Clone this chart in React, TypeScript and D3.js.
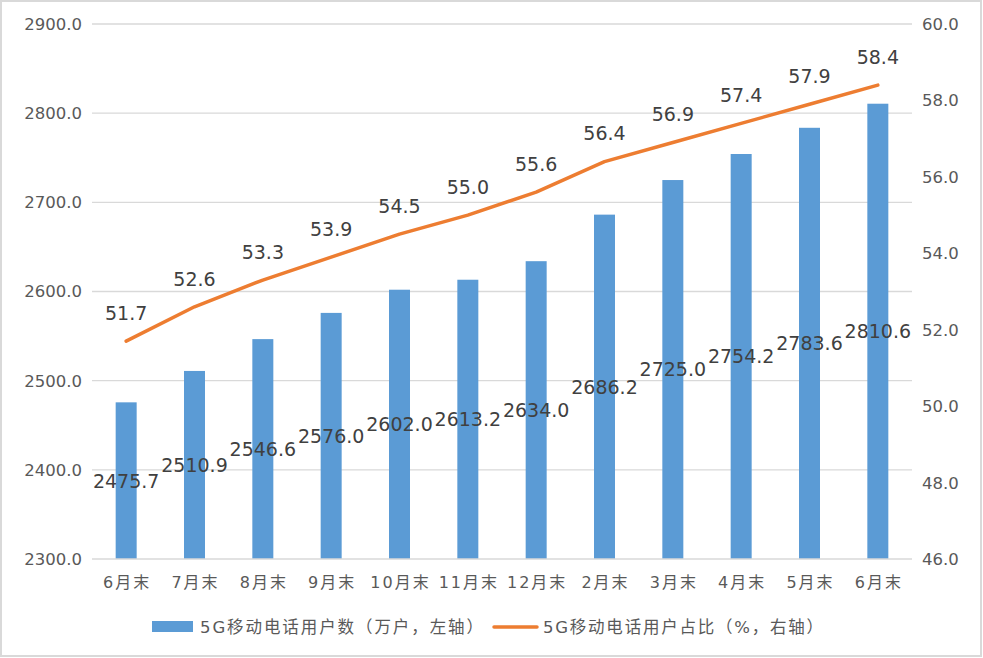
import React from "react";
import * as d3 from "d3";

const categories = ["6月末", "7月末", "8月末", "9月末", "10月末", "11月末", "12月末", "2月末", "3月末", "4月末", "5月末", "6月末"];
const users = [2475.7, 2510.9, 2546.6, 2576.0, 2602.0, 2613.2, 2634.0, 2686.2, 2725.0, 2754.2, 2783.6, 2810.6];
const share = [51.7, 52.6, 53.3, 53.9, 54.5, 55.0, 55.6, 56.4, 56.9, 57.4, 57.9, 58.4];
const leftTicks = [2300, 2400, 2500, 2600, 2700, 2800, 2900];
const rightTicks = [46, 48, 50, 52, 54, 56, 58, 60];
const seriesNames = ["5G移动电话用户数（万户，左轴）", "5G移动电话用户占比（%，右轴）"];

const W = 983;
const H = 658;
const plot = { left: 92, right: 912, top: 24, bottom: 559 };
const font = "DejaVu Sans, 'Noto Sans CJK SC', sans-serif";

const App = () => {
  const x = d3
    .scaleBand<number>()
    .domain(d3.range(categories.length))
    .range([plot.left, plot.right]);
  const yL = d3.scaleLinear().domain([2300, 2900]).range([plot.bottom, plot.top]);
  const yR = d3.scaleLinear().domain([46, 60]).range([plot.bottom, plot.top]);
  const barW = 21;
  const cx = (i: number) => (x(i) as number) + x.bandwidth() / 2;

  const line = d3
    .line<number>()
    .x((_, i) => cx(i))
    .y((d) => yR(d));

  return (
    <svg
      width={W}
      height={H}
      style={{ position: "absolute", left: 0, top: 0 }}
      fontFamily={font}
    >
      <rect x={1} y={1} width={W - 3} height={H - 3} fill="#fff" stroke="#d9d9d9" strokeWidth={2} />

      {leftTicks.slice(1).map((t) => (
        <line key={t} x1={plot.left} x2={plot.right} y1={yL(t)} y2={yL(t)} stroke="#d9d9d9" strokeWidth={1.3} />
      ))}

      {users.map((v, i) => (
        <rect
          key={i}
          x={cx(i) - barW / 2}
          y={yL(v)}
          width={barW}
          height={plot.bottom - yL(v)}
          fill="#5b9bd5"
        />
      ))}

      <line x1={plot.left} x2={plot.right} y1={plot.bottom} y2={plot.bottom} stroke="#d9d9d9" strokeWidth={1.5} />

      {leftTicks.map((t) => (
        <text key={t} x={82} y={yL(t)} dy="0.36em" textAnchor="end" fontSize={16.5} fill="#595959">
          {t.toFixed(1)}
        </text>
      ))}
      {rightTicks.map((t) => (
        <text key={t} x={922} y={yR(t)} dy="0.36em" textAnchor="start" fontSize={16.5} fill="#595959">
          {t.toFixed(1)}
        </text>
      ))}
      {categories.map((c, i) => (
        <text
          key={i}
          x={cx(i) + 1}
          y={582}
          dy="0.36em"
          textAnchor="middle"
          fontSize={16}
          letterSpacing={2}
          fill="#595959"
        >
          {c}
        </text>
      ))}

      <path d={line(share) || ""} fill="none" stroke="#ed7d31" strokeWidth={3.5} strokeLinejoin="round" strokeLinecap="round" />

      {users.map((v, i) => (
        <text
          key={i}
          x={cx(i)}
          y={(yL(v) + plot.bottom) / 2}
          dy="0.36em"
          textAnchor="middle"
          fontSize={19}
          fill="#404040"
        >
          {v.toFixed(1)}
        </text>
      ))}
      {share.map((v, i) => (
        <text key={i} x={cx(i)} y={yR(v) - 28} dy="0.36em" textAnchor="middle" fontSize={19} fill="#404040">
          {v.toFixed(1)}
        </text>
      ))}

      <rect x={152} y={621} width={41} height={11} fill="#5b9bd5" />
      <text x={200} y={627} dy="0.36em" fontSize={16.5} fill="#595959" textLength={283} lengthAdjust="spacing">
        {seriesNames[0]}
      </text>
      <line x1={494} x2={537} y1={627} y2={627} stroke="#ed7d31" strokeWidth={3.5} strokeLinecap="round" />
      <text x={543} y={627} dy="0.36em" fontSize={16.5} fill="#595959" textLength={280} lengthAdjust="spacing">
        {seriesNames[1]}
      </text>
    </svg>
  );
};

export default App;
